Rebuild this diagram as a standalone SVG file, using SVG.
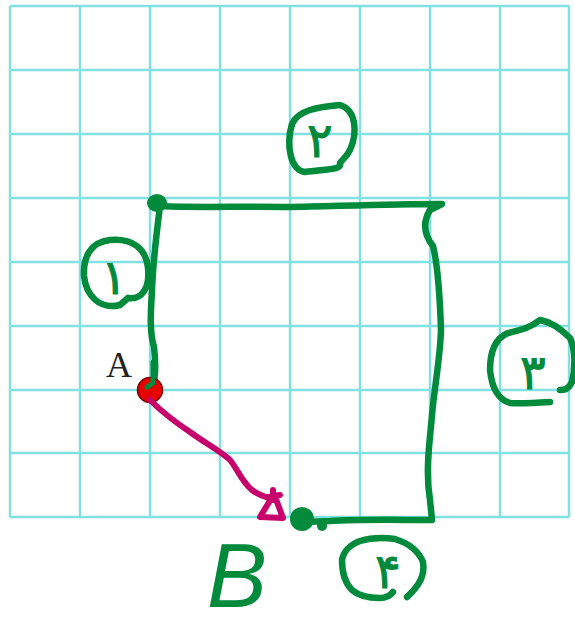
<svg xmlns="http://www.w3.org/2000/svg" width="575" height="629" viewBox="0 0 575 629">
<style>
.grid line{stroke:#7fe2e0;stroke-width:2.4}
.g{fill:none;stroke:#008a3c;stroke-width:6.5;stroke-linecap:round;stroke-linejoin:round}
.gf{fill:#008a3c}
.lbl{fill:#008a3c;stroke:#008a3c;stroke-width:1;font-family:"DejaVu Sans",sans-serif;font-weight:normal;text-anchor:middle}
.m{fill:none;stroke:#c8006c;stroke-width:6;stroke-linecap:round;stroke-linejoin:round}
</style>
<rect width="575" height="629" fill="#ffffff"/>
<g class="grid">
<line x1="10" y1="6" x2="10" y2="517"/>
<line x1="80" y1="6" x2="80" y2="517"/>
<line x1="150" y1="6" x2="150" y2="517"/>
<line x1="220" y1="6" x2="220" y2="517"/>
<line x1="290" y1="6" x2="290" y2="517"/>
<line x1="360" y1="6" x2="360" y2="517"/>
<line x1="430" y1="6" x2="430" y2="517"/>
<line x1="500" y1="6" x2="500" y2="517"/>
<line x1="569" y1="6" x2="569" y2="517"/>
<line x1="10" y1="6" x2="569" y2="6"/>
<line x1="10" y1="70" x2="569" y2="70"/>
<line x1="10" y1="134" x2="569" y2="134"/>
<line x1="10" y1="198" x2="569" y2="198"/>
<line x1="10" y1="262" x2="569" y2="262"/>
<line x1="10" y1="326" x2="569" y2="326"/>
<line x1="10" y1="390" x2="569" y2="390"/>
<line x1="10" y1="453" x2="569" y2="453"/>
<line x1="10" y1="517" x2="569" y2="517"/>
</g>
<g id="shape">
<path class="g" d="M160,206 C200,208 240,206 290,207 C340,206 390,204 442,204 L430,210 C424,220 422,232 433,246 C437,262 440,300 441,330 C440,360 434,390 432,415 C430,440 425,470 430,500 L432,520 C400,520 360,519 330,521 L305,522"/>
<path class="g" d="M160,206 C157,230 153,260 152,290 C151,310 149,330 154,347 C156,365 155,378 153,384 L148,387"/>
<ellipse class="gf" cx="157" cy="203" rx="10" ry="9"/>
</g>
<g id="pointA">
<circle cx="150" cy="390" r="12.5" fill="#e60000" stroke="#7a0000" stroke-width="1.5"/>
<path class="g" d="M153,362 L153,383 L147,387" style="stroke-width:5"/>
<text x="119" y="377" font-family="Liberation Serif, serif" font-size="36" fill="#222" text-anchor="middle">A</text>
</g>
<g id="pointB">
<circle class="gf" cx="302" cy="519" r="12"/>
<circle class="gf" cx="322" cy="526" r="5"/>
<text x="237" y="607" font-family="Liberation Sans, sans-serif" font-style="italic" font-size="90" fill="#008a3c" text-anchor="middle">B</text>
</g>
<g id="connectors">
<path class="m" d="M150,400 C160,410 175,422 190,432 C205,443 222,452 230,460 C238,470 242,482 252,490 C260,496 266,497 272,499"/>
<path class="m" d="M260,517 L274,494 L283,518 Z M273,490 L273,500 M268,497 L280,495"/>
</g>
<g id="label1">
<path class="g" d="M128,298 C142,300 150,288 148,268 C146,248 132,238 110,240 C90,242 83,258 84,276 C86,296 100,310 120,305 L128,298"/>
<text class="lbl" x="114" y="294" font-size="48">۱</text>
</g>
<g id="label2">
<path class="g" d="M292,124 C298,110 318,107 340,105 C356,110 358,132 350,150 C346,158 342,160 340,163 C342,170 328,169 305,172 C290,170 286,145 292,124 Z"/>
<text class="lbl" x="320" y="157" font-size="48">۲</text>
</g>
<g id="label3">
<path class="g" d="M550,402 C535,403 520,404 510,403 C500,400 492,390 490,370 C490,350 496,338 508,333 C520,330 530,328 540,320 C552,322 562,330 570,338 C576,350 575,370 572,382 C568,390 564,390 560,390"/>
<text class="lbl" x="533" y="389" font-size="48">۳</text>
</g>
<g id="label4">
<path class="g" d="M393,592 C390,596 386,598 380,598 C370,598 360,597 352,590 C344,582 342,572 342,560 C344,550 350,545 360,541 C370,538 380,537 395,539 C408,543 418,550 423,562 C425,575 420,585 407,597"/>
<text class="lbl" x="388" y="588" font-size="48">۴</text>
</g>
</svg>
